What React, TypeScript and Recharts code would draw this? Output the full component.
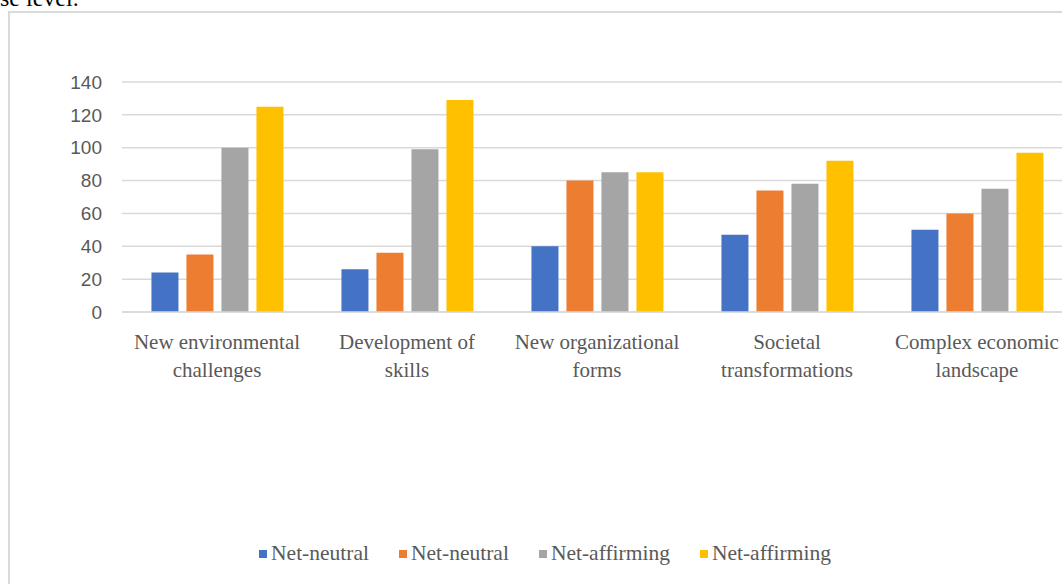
import React from "react";
import { BarChart, Bar, XAxis, YAxis, CartesianGrid, Legend } from "recharts";

// Category labels, split into the two lines they are printed on
const categoryLines: string[][] = [
  ["New environmental", "challenges"],
  ["Development of", "skills"],
  ["New organizational", "forms"],
  ["Societal", "transformations"],
  ["Complex economic", "landscape"],
];
const categories = categoryLines.map((l) => l.join(" "));

// Series values per category
const netNeutralA = [24, 26, 40, 47, 50];
const netNeutralB = [35, 36, 80, 74, 60];
const netAffirmingA = [100, 99, 85, 78, 75];
const netAffirmingB = [125, 129, 85, 92, 97];

const yTicks = [0, 20, 40, 60, 80, 100, 120, 140];

const seriesDefs = [
  { key: "s1", name: "Net-neutral", color: "#4472C4", values: netNeutralA },
  { key: "s2", name: "Net-neutral", color: "#ED7D31", values: netNeutralB },
  { key: "s3", name: "Net-affirming", color: "#A5A5A5", values: netAffirmingA },
  { key: "s4", name: "Net-affirming", color: "#FFC000", values: netAffirmingB },
];

const data = categories.map((c, i) => {
  const row: Record<string, string | number> = { category: c };
  seriesDefs.forEach((s) => {
    row[s.key] = s.values[i];
  });
  return row;
});

const SERIF = '"Liberation Serif", "Times New Roman", serif';
const SANS = '"Liberation Sans", Arial, sans-serif';

const CategoryTick = (props: any) => {
  const { x, y, index } = props;
  const lines = categoryLines[index] || [];
  return (
    <g>
      {lines.map((t, i) => (
        <text
          key={i}
          x={x}
          y={y + 37 + i * 28}
          textAnchor="middle"
          fill="#595959"
          fontFamily={SERIF}
          fontSize={21}
        >
          {t}
        </text>
      ))}
    </g>
  );
};

const LegendContent = () => (
  <div
    style={{
      display: "flex",
      justifyContent: "center",
      alignItems: "center",
      fontFamily: SERIF,
      fontSize: 21.5,
      color: "#595959",
    }}
  >
    {seriesDefs.map((s, i) => (
      <div
        key={s.key}
        style={{ display: "flex", alignItems: "center", marginLeft: i === 0 ? 0 : 30 }}
      >
        <span
          style={{ width: 8, height: 8, background: s.color, display: "inline-block", marginRight: 4 }}
        />
        <span>{s.name}</span>
      </div>
    ))}
  </div>
);

export default function App() {
  return (
    <div
      style={{
        position: "fixed",
        left: 0,
        top: 0,
        width: 1062,
        height: 584,
        overflow: "hidden",
        background: "#ffffff",
      }}
    >
      <div
        style={{
          position: "absolute",
          left: 0,
          top: -14,
          fontFamily: SERIF,
          fontSize: 24,
          lineHeight: "24px",
          color: "#000",
          whiteSpace: "nowrap",
        }}
      >
        se level.
      </div>
      <div
        style={{
          position: "absolute",
          left: 8,
          top: 11,
          width: 1074,
          height: 600,
          border: "2px solid #d9d9d9",
          boxSizing: "border-box",
        }}
      />
      <div style={{ position: "absolute", left: 0, top: 0 }}>
        <BarChart
          width={1090}
          height={584}
          data={data}
          margin={{ top: 82, right: 18, left: 0, bottom: 167 }}
          barCategoryGap="15.5%"
          barGap={8}
        >
          <CartesianGrid vertical={false} stroke="#d9d9d9" strokeWidth={1.5} />
          <XAxis
            dataKey="category"
            axisLine={{ stroke: "#d9d9d9", strokeWidth: 1.5 }}
            tickLine={false}
            tickSize={0}
            tickMargin={0}
            height={80}
            interval={0}
            tick={<CategoryTick />}
          />
          <YAxis
            width={122}
            domain={[0, 140]}
            ticks={yTicks}
            axisLine={false}
            tickLine={false}
            tickSize={0}
            tickMargin={20}
            tick={{ fill: "#595959", fontSize: 19, fontFamily: SANS }}
          />
          {seriesDefs.map((s) => (
            <Bar
              key={s.key}
              dataKey={s.key}
              name={s.name}
              fill={s.color}
              isAnimationActive={false}
            />
          ))}
          <Legend
            content={<LegendContent />}
            wrapperStyle={{ top: 541, left: 0, width: 1090 }}
          />
        </BarChart>
      </div>
    </div>
  );
}
